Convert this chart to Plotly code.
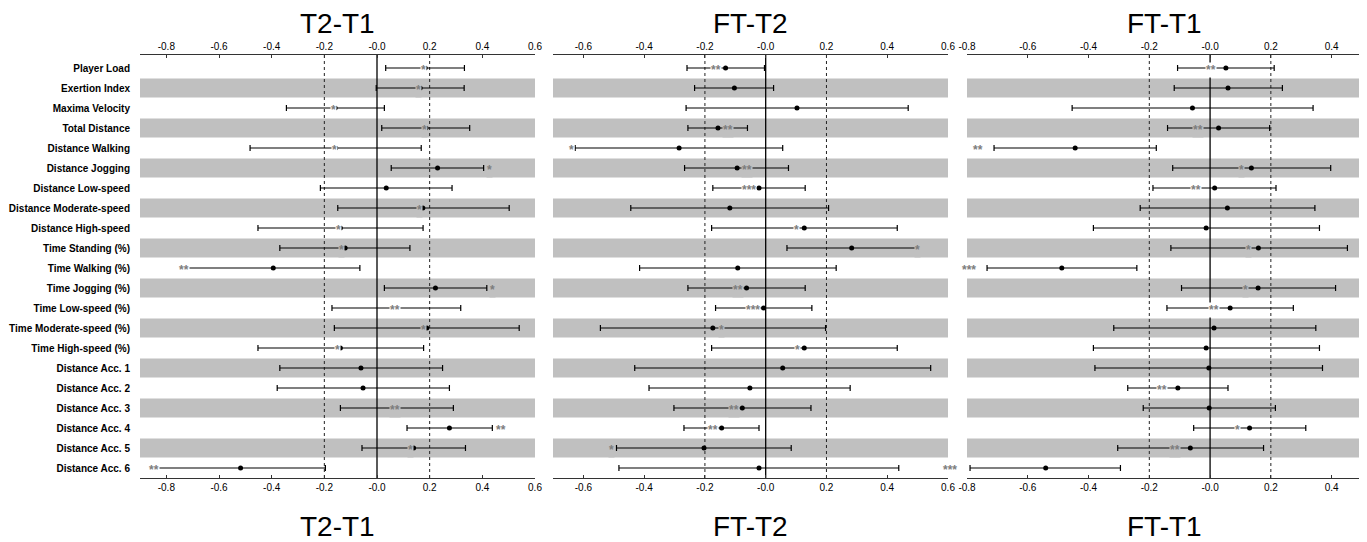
import plotly.graph_objects as go

categories = ["Player Load", "Exertion Index", "Maxima Velocity", "Total Distance",
              "Distance Walking", "Distance Jogging", "Distance Low-speed",
              "Distance Moderate-speed", "Distance High-speed", "Time Standing (%)",
              "Time Walking (%)", "Time Jogging (%)", "Time Low-speed (%)",
              "Time Moderate-speed (%)", "Time High-speed (%)", "Distance Acc. 1",
              "Distance Acc. 2", "Distance Acc. 3", "Distance Acc. 4",
              "Distance Acc. 5", "Distance Acc. 6"]

panel_titles = ["T2-T1", "FT-T2", "FT-T1"]

# T2-T1
t2t1_est = [0.183, 0.164, -0.159, 0.186, -0.157, 0.230, 0.035, 0.174, -0.139, -0.121, -0.394,
            0.222, 0.073, 0.189, -0.139, -0.061, -0.053, 0.076, 0.275, 0.139, -0.518]
t2t1_lo = [0.033, -0.003, -0.344, 0.018, -0.482, 0.054, -0.215, -0.149, -0.452, -0.369, -0.722,
           0.028, -0.171, -0.162, -0.452, -0.369, -0.379, -0.139, 0.114, -0.057, -0.840]
t2t1_hi = [0.332, 0.331, 0.028, 0.352, 0.168, 0.405, 0.285, 0.502, 0.175, 0.125, -0.065,
           0.417, 0.318, 0.540, 0.177, 0.249, 0.275, 0.290, 0.438, 0.336, -0.196]
t2t1_sig = ["*", "*", "*", "*", "*", "*", "", "*", "*", "*", "**",
            "*", "**", "*", "*", "", "", "**", "**", "*", "**"]
t2t1_sig_x = [0.165, 0.146, -0.180, 0.167, -0.176, 0.427, 0, 0.149, -0.158, -0.149, -0.755,
              0.438, 0.045, 0.163, -0.162, 0, 0, 0.044, 0.472, 0.114, -0.869]

# FT-T2
ftt2_est = [-0.132, -0.103, 0.103, -0.157, -0.285, -0.094, -0.022, -0.118, 0.127, 0.283, -0.092,
            -0.063, -0.007, -0.174, 0.127, 0.056, -0.052, -0.077, -0.145, -0.203, -0.022]
ftt2_lo = [-0.259, -0.234, -0.262, -0.256, -0.627, -0.267, -0.174, -0.444, -0.178, 0.070, -0.415,
           -0.256, -0.165, -0.544, -0.178, -0.431, -0.384, -0.302, -0.269, -0.491, -0.483]
ftt2_hi = [-0.004, 0.026, 0.469, -0.060, 0.056, 0.075, 0.130, 0.207, 0.433, 0.494, 0.232,
           0.130, 0.152, 0.197, 0.433, 0.543, 0.278, 0.149, -0.022, 0.084, 0.438]
ftt2_sig = ["**", "", "", "**", "*", "**", "***", "", "*", "*", "",
            "**", "***", "*", "*", "", "", "**", "**", "*", ""]
ftt2_sig_x = [-0.162, 0, 0, -0.125, -0.640, -0.061, -0.055, 0, 0.103, 0.511, 0,
              -0.091, -0.043, -0.145, 0.105, 0, 0, -0.105, -0.173, -0.508, 0]

# FT-T1
ftt1_est = [0.052, 0.059, -0.058, 0.028, -0.444, 0.136, 0.015, 0.057, -0.013, 0.159, -0.488,
            0.158, 0.066, 0.013, -0.013, -0.004, -0.106, -0.003, 0.130, -0.065, -0.541]
ftt1_lo = [-0.107, -0.118, -0.454, -0.140, -0.711, -0.123, -0.188, -0.230, -0.384, -0.129, -0.734,
           -0.094, -0.142, -0.317, -0.384, -0.379, -0.271, -0.220, -0.054, -0.304, -0.790]
ftt1_hi = [0.211, 0.238, 0.339, 0.196, -0.177, 0.397, 0.217, 0.345, 0.360, 0.452, -0.241,
           0.413, 0.274, 0.348, 0.360, 0.370, 0.059, 0.215, 0.315, 0.176, -0.295]
ftt1_sig = ["**", "", "", "**", "**", "*", "**", "", "", "*", "***",
            "*", "**", "", "", "", "**", "", "*", "**", "***"]
ftt1_sig_x = [0.022, 0, 0, -0.019, -0.744, 0.114, -0.025, 0, 0, 0.139, -0.768,
              0.127, 0.032, 0, 0, 0, -0.138, 0, 0.101, -0.096, -0.830]

tick_vals = [-0.8, -0.6, -0.4, -0.2, 0.0, 0.2, 0.4, 0.6]
tick_text = ["-0.8", "-0.6", "-0.4", "-0.2", "-0.0", "0.2", "0.4", "0.6"]

panels = [
    (t2t1_est, t2t1_lo, t2t1_hi, t2t1_sig, t2t1_sig_x, [-0.9, 0.6]),
    (ftt2_est, ftt2_lo, ftt2_hi, ftt2_sig, ftt2_sig_x, [-0.7, 0.6]),
    (ftt1_est, ftt1_lo, ftt1_hi, ftt1_sig, ftt1_sig_x, [-0.8, 0.5]),
]

# page body has an 8px margin: size the figure so it fills the 1367x542 window
OFF = 8
W, H = 1367 - OFF, 542 - OFF


def fx(px):
    return (px - OFF) / W


def fy(py):
    return 1 - (py - OFF) / H


px_domains = [(140, 535), (553, 948), (967, 1362)]
y_dom = [fy(478), fy(55)]
rows = list(range(len(categories)))
y_range = [20.5, -0.65]
band_color = "#c0c0c0"
FONT = "Liberation Sans, Arial, sans-serif"

fig = go.Figure()
layout = dict(template="none", width=W, height=H, margin=dict(l=0, r=0, t=0, b=0, pad=0),
              paper_bgcolor="white", plot_bgcolor="white", showlegend=False,
              font=dict(family=FONT, color="black"))
shapes = []
annotations = []

axis_font = dict(family=FONT, size=10, color="black")

for p, (est, lo, hi, sig, sig_x, xr) in enumerate(panels):
    xb = "x" if p == 0 else f"x{p + 1}"
    yb = "y" if p == 0 else f"y{p + 1}"
    xt_idx = p + 4
    xt = f"x{xt_idx}"
    dom = [fx(px_domains[p][0]), fx(px_domains[p][1])]
    common = dict(range=xr, tickvals=tick_vals, ticktext=tick_text, showgrid=False,
                  zeroline=False, showline=True, linecolor="#333", linewidth=1,
                  ticks="inside", ticklen=3, tickcolor="#333", tickfont=axis_font,
                  domain=dom, automargin=False)
    layout["xaxis" if p == 0 else f"xaxis{p + 1}"] = dict(common, anchor=yb, side="bottom")
    layout[f"xaxis{xt_idx}"] = dict(common, anchor=yb, side="top", overlaying=xb)
    yax = dict(domain=y_dom, range=y_range, anchor=xb, showgrid=False, zeroline=False,
               showline=False, ticks="", tickvals=rows, ticktext=categories,
               showticklabels=(p == 0), automargin=False,
               tickfont=dict(family=FONT, size=10, color="black", weight="bold"),
               ticklabelstandoff=9)
    layout["yaxis" if p == 0 else f"yaxis{p + 1}"] = yax

    # alternating bands
    for i in rows:
        if i % 2 == 1:
            shapes.append(dict(type="rect", xref=f"{xb} domain", yref=yb, x0=0, x1=1,
                               y0=i - 0.475, y1=i + 0.475, fillcolor=band_color,
                               line=dict(width=0), layer="below"))
    # reference lines
    for v in (-0.2, 0.2):
        shapes.append(dict(type="line", xref=xb, yref=f"{yb} domain", x0=v, x1=v, y0=0, y1=1,
                           line=dict(color="#222", width=1, dash="dot"), layer="below"))
    shapes.append(dict(type="line", xref=xb, yref=f"{yb} domain", x0=0, x1=0, y0=0, y1=1,
                       line=dict(color="black", width=1.3), layer="below"))

    plus = [h - e for h, e in zip(hi, est)]
    minus = [e - l for e, l in zip(est, lo)]
    fig.add_trace(go.Scatter(
        x=est, y=rows, xaxis=xb, yaxis=yb, mode="markers",
        marker=dict(color="black", size=5),
        error_x=dict(type="data", symmetric=False, array=plus, arrayminus=minus,
                     color="black", thickness=1.2, width=3),
        hoverinfo="skip"))
    # invisible trace so the top axis is drawn
    fig.add_trace(go.Scatter(x=est, y=rows, xaxis=xt, yaxis=yb, mode="markers",
                             marker=dict(opacity=0), hoverinfo="skip"))

    # significance marks: x converted to paper so marks beyond the axis range still show
    for i in rows:
        if sig[i]:
            xpaper = dom[0] + (sig_x[i] - xr[0]) / (xr[1] - xr[0]) * (dom[1] - dom[0])
            annotations.append(dict(
                x=xpaper, y=i, xref="paper", yref=yb, text=sig[i], showarrow=False,
                font=dict(family=FONT, size=12, color="#7d7d7d", weight="bold"),
                bgcolor=band_color if i % 2 == 1 else "white", borderpad=0, yshift=-2))

    cx = fx((px_domains[p][0] + px_domains[p][1]) / 2)
    for yy in (fy(24), fy(526)):
        annotations.append(dict(x=cx, y=yy, xref="paper", yref="paper", text=panel_titles[p],
                                showarrow=False, xanchor="center", yanchor="middle",
                                font=dict(family=FONT, size=28, color="black")))

layout["shapes"] = shapes
layout["annotations"] = annotations
fig.update_layout(**layout)
fig.write_html("out.html")
